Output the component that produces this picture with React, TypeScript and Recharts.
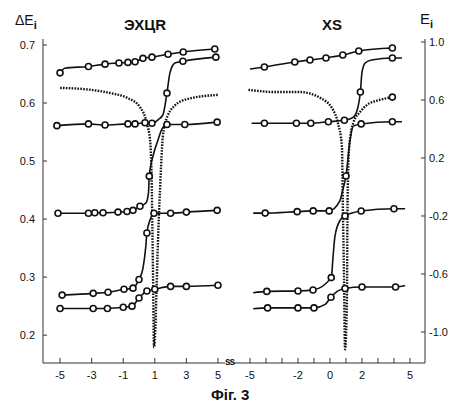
import { LineChart, Line, XAxis, YAxis } from "recharts";

// [x, y, marker(1 = open circle)]
type Pt = [number, number, number?];

// ---- ЭХЦR panel (ΔEi) ----
const exTop: Pt[] = [[-5, 0.652, 1], [-4.7, 0.66], [-3.2, 0.663, 1], [-2.15, 0.667, 1], [-1.27, 0.669, 1], [-0.7, 0.67, 1], [-0.25, 0.671, 1], [0.25, 0.677, 1], [0.82, 0.679, 1], [1.84, 0.684, 1], [2.8, 0.688, 1], [4.8, 0.693, 1]];
const exS1: Pt[] = [[-5.2, 0.561, 1], [-3.2, 0.564, 1], [-2.15, 0.562, 1], [-0.7, 0.564, 1], [-0.25, 0.564, 1], [0.38, 0.566, 1], [0.82, 0.565, 1], [1.2, 0.571], [1.52, 0.58], [1.77, 0.617, 1], [1.96, 0.652], [2.28, 0.669], [2.78, 0.672, 1], [4.87, 0.679, 1]];
const exS2: Pt[] = [[-5.13, 0.41, 1], [-3.2, 0.41, 1], [-2.8, 0.411, 1], [-2.28, 0.411, 1], [-1.33, 0.412, 1], [-0.76, 0.413, 1], [-0.38, 0.415, 1], [0.06, 0.422, 1], [0.45, 0.428], [0.6, 0.445], [0.65, 0.474, 1], [0.9, 0.51], [1.2, 0.536], [1.45, 0.555], [1.77, 0.563, 1], [2.9, 0.563, 1], [4.95, 0.567, 1]];
const exS3: Pt[] = [[-4.87, 0.269, 1], [-2.9, 0.272, 1], [-1.96, 0.274, 1], [-0.95, 0.279, 1], [-0.38, 0.281, 1], [0.0, 0.296, 1], [0.25, 0.315], [0.42, 0.35], [0.5, 0.376, 1], [0.72, 0.4], [0.95, 0.41, 1], [2.0, 0.41, 1], [3.0, 0.412, 1], [4.95, 0.415, 1]];
const exS4: Pt[] = [[-5, 0.246, 1], [-2.9, 0.246, 1], [-2.0, 0.246, 1], [-1.0, 0.248, 1], [-0.44, 0.25, 1], [0.0, 0.264, 1], [0.5, 0.276, 1], [1.0, 0.279, 1], [2.0, 0.284, 1], [3.0, 0.284, 1], [5.0, 0.286, 1]];
const exDot: Pt[] = [[-5, 0.626], [-3.5, 0.624], [-1.8, 0.617], [-0.76, 0.609], [0.06, 0.593], [0.5, 0.565], [0.7, 0.536], [0.8, 0.47], [0.85, 0.38], [0.9, 0.28], [0.95, 0.179], [1.02, 0.2], [1.1, 0.27], [1.2, 0.36], [1.33, 0.45], [1.46, 0.524], [1.65, 0.565], [2.28, 0.596], [3.1, 0.607], [5.0, 0.614]];

// ---- XS panel (Ei) ----
const xsTop: Pt[] = [[-5, 0.814], [-4.1, 0.828, 1], [-2.2, 0.862, 1], [-1.25, 0.876, 1], [-0.25, 0.89, 1], [0.8, 0.91, 1], [1.8, 0.938, 1], [3.9, 0.959, 1]];
const xsS1: Pt[] = [[-4.9, 0.44], [-4.1, 0.44, 1], [-2.1, 0.44, 1], [-1.2, 0.44, 1], [-0.1, 0.45, 1], [0.9, 0.46, 1], [1.45, 0.48], [1.75, 0.55], [1.9, 0.655, 1], [2.0, 0.79], [2.2, 0.855], [2.6, 0.876], [3.9, 0.89, 1], [4.5, 0.89]];
const xsS2: Pt[] = [[-4.8, -0.18], [-4.05, -0.18, 1], [-2.05, -0.17, 1], [-1.05, -0.165, 1], [-0.05, -0.165, 1], [0.6, -0.1], [0.8, -0.02], [1.0, 0.076, 1], [1.25, 0.32], [1.45, 0.42], [1.95, 0.435, 1], [3.9, 0.45, 1], [4.5, 0.45]];
const xsS3: Pt[] = [[-4.8, -0.73], [-3.95, -0.72, 1], [-2.0, -0.717, 1], [-1.06, -0.71, 1], [0.08, -0.625, 1], [0.2, -0.47], [0.31, -0.34], [0.63, -0.23], [0.94, -0.2, 1], [1.95, -0.166, 1], [4.0, -0.15, 1], [4.7, -0.15]];
const xsS4: Pt[] = [[-4.8, -0.84], [-3.9, -0.834, 1], [-2.0, -0.834, 1], [-1.0, -0.834, 1], [-0.3, -0.81], [0.06, -0.76, 1], [0.45, -0.72], [0.94, -0.7, 1], [2.0, -0.69, 1], [4.1, -0.69, 1], [4.7, -0.68]];
const xsDot: Pt[] = [[-5.1, 0.67], [-3.4, 0.655], [-1.9, 0.655], [-0.6, 0.614], [0.2, 0.53], [0.5, 0.44], [0.75, 0.276], [0.8, -0.09], [0.88, -0.64], [0.94, -1.12], [1.06, -0.78], [1.1, -0.09], [1.2, 0.276], [1.45, 0.44], [1.9, 0.52], [2.3, 0.565], [3.1, 0.6], [3.9, 0.62, 1]];

const exXTicks = [-5, -3, -1, 1, 3, 5];
const exYTicks = [0.2, 0.3, 0.4, 0.5, 0.6, 0.7];
const xsXTicks = [-5, -4, -3, -2, -1, 0, 1, 2, 3, 4, 5];
const xsXLabels = [-5, -2, 0, 2, 5];
const xsYTicks = [-1.0, -0.6, -0.2, 0.2, 0.6, 1.0];

const rows = (pts: Pt[]) => pts.map(([x, y, m]) => ({ x, y, m: !!m }));

const ink = "#111";
const font = "'Liberation Sans', Arial, sans-serif";
const tickStyle = { fill: ink, fontSize: 11, fontFamily: font };

const Ring = (props: any) => {
  const { cx, cy, payload, index } = props;
  if (!payload || !payload.m) return <g key={`n${index}`} />;
  return <circle key={`c${index}`} cx={cx} cy={cy} r={3} fill="#fff" stroke={ink} strokeWidth={1.6} />;
};

const solid = (pts: Pt[], id: string, axis?: string) => (
  <Line key={id} yAxisId={axis ?? 0} data={rows(pts)} dataKey="y" type="monotone" stroke={ink} strokeWidth={1.6} dot={Ring} activeDot={false} isAnimationActive={false} />
);
const dotted = (pts: Pt[], id: string, axis?: string) => (
  <Line key={id} yAxisId={axis ?? 0} data={rows(pts)} dataKey="y" type="monotone" stroke={ink} strokeWidth={2.4} strokeDasharray="1.6 1.3" dot={Ring} activeDot={false} isAnimationActive={false} />
);

export default function App() {
  return (
    <div style={{ position: "absolute", left: 0, top: 0, width: 455, height: 407, background: "#fff", fontFamily: font, color: ink }}>
      <div style={{ position: "absolute", left: 0, top: 0 }}>
        <LineChart width={226} height={383} margin={{ top: 39, right: 0, bottom: 0, left: 0 }}>
          <XAxis type="number" dataKey="x" domain={[-6.08, 5.51]} allowDataOverflow ticks={exXTicks} interval={0} height={20} tickSize={-5} tickMargin={13} stroke="#333" tick={tickStyle} />
          <YAxis type="number" domain={[0.152, 0.7103]} allowDataOverflow ticks={exYTicks} interval={0} width={43} tickSize={-4} tickMargin={12} stroke="#333" tick={tickStyle} tickFormatter={(v: number) => v.toFixed(1)} />
          {dotted(exDot, "exDot")}
          {solid(exTop, "exTop")}
          {solid(exS1, "exS1")}
          {solid(exS2, "exS2")}
          {solid(exS3, "exS3")}
          {solid(exS4, "exS4")}
        </LineChart>
      </div>
      <div style={{ position: "absolute", left: 232, top: 0 }}>
        <LineChart width={223} height={383} margin={{ top: 39, right: 0, bottom: 0, left: 0 }}>
          <XAxis type="number" dataKey="x" domain={[-6.125, 5.94]} allowDataOverflow ticks={xsXTicks} interval={0} height={20} tickSize={-5} tickMargin={13} stroke="#333" tick={tickStyle} tickFormatter={(v: number) => (xsXLabels.includes(v) ? String(v) : "")} />
          <YAxis yAxisId="r" orientation="right" type="number" domain={[-1.214, 1.0207]} allowDataOverflow ticks={xsYTicks} interval={0} width={30} tickSize={-4} tickMargin={8} stroke="#333" tick={tickStyle} tickFormatter={(v: number) => v.toFixed(1)} />
          {dotted(xsDot, "xsDot", "r")}
          {solid(xsTop, "xsTop", "r")}
          {solid(xsS1, "xsS1", "r")}
          {solid(xsS2, "xsS2", "r")}
          {solid(xsS3, "xsS3", "r")}
          {solid(xsS4, "xsS4", "r")}
        </LineChart>
      </div>
      <div style={{ position: "absolute", left: 225, top: 356, fontSize: 10, fontWeight: "bold", letterSpacing: -1, background: "#fff" }}>ss</div>
      <div style={{ position: "absolute", left: 15, top: 12, fontSize: 14 }}>
        ΔE<sub style={{ fontSize: 11, fontWeight: "bold" }}>i</sub>
      </div>
      <div style={{ position: "absolute", left: 420, top: 10, fontSize: 15 }}>
        E<sub style={{ fontSize: 11, fontWeight: "bold" }}>i</sub>
      </div>
      <div style={{ position: "absolute", left: 124, top: 16, fontSize: 15, fontWeight: "bold" }}>ЭХЦR</div>
      <div style={{ position: "absolute", left: 322, top: 16, fontSize: 15, fontWeight: "bold" }}>XS</div>
      <div style={{ position: "absolute", left: 211, top: 386, fontSize: 15, fontWeight: "bold" }}>Фіг. 3</div>
    </div>
  );
}
